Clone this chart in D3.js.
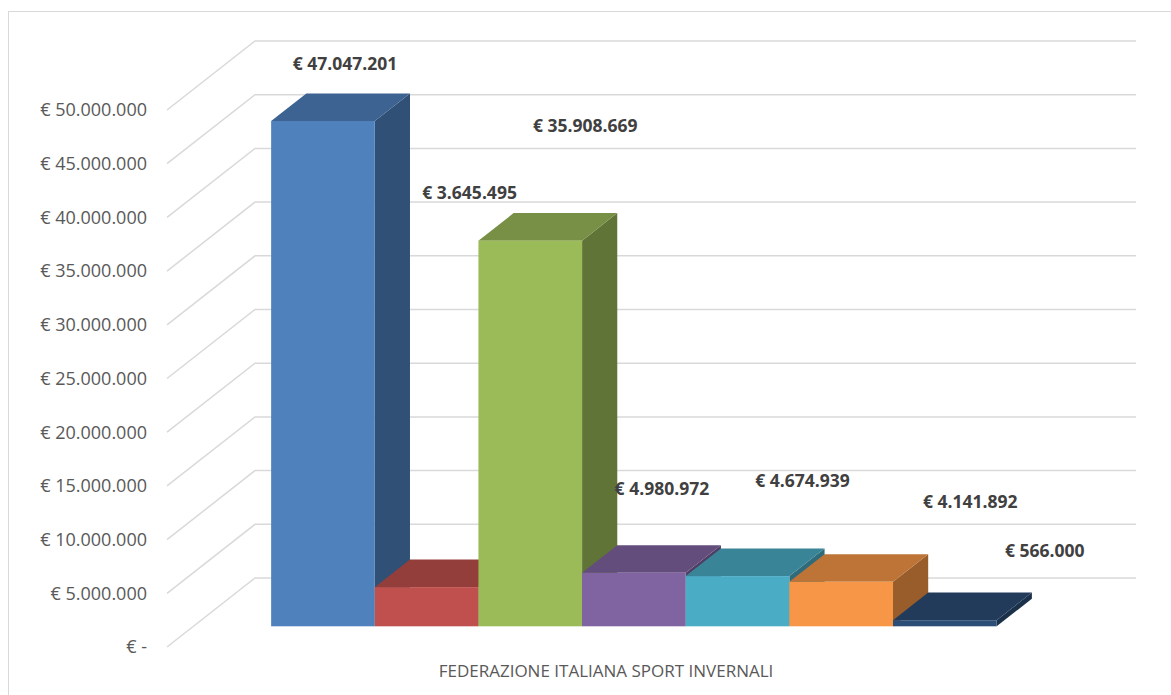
<!DOCTYPE html>
<html>
<head>
<meta charset="utf-8">
<script src="https://cdn.jsdelivr.net/npm/d3@7/dist/d3.min.js"></script>
<style>
  html, body { margin: 0; padding: 0; background: #ffffff; }
  svg { display: block; }
</style>
</head>
<body>
<svg id="chart" width="1171" height="695"></svg>
<script>
// ---- data ----
const categories = ["FEDERAZIONE ITALIANA SPORT INVERNALI"];
const seriesNames = ["S1", "S2", "S3", "S4", "S5", "S6", "S7"];
const seriesValues = [47047201, 3645495, 35908669, 4980972, 4674939, 4141892, 566000];
const tickValues = [0, 5000000, 10000000, 15000000, 20000000, 25000000, 30000000, 35000000, 40000000, 45000000, 50000000];
const tickLabels = ["€ -", "€ 5.000.000", "€ 10.000.000", "€ 15.000.000", "€ 20.000.000", "€ 25.000.000", "€ 30.000.000", "€ 35.000.000", "€ 40.000.000", "€ 45.000.000", "€ 50.000.000"];
const dataLabels = ["€ 47.047.201", "€ 3.645.495", "€ 35.908.669", "€ 4.980.972", "€ 4.674.939", "€ 4.141.892", "€ 566.000"];

// ---- style / layout ----
const seriesColors = ["#4F81BD", "#C0504D", "#9BBB59", "#8064A2", "#4BACC6", "#F79646", "#2C4D75"];
// label placement relative to bar top-front centre (pixels)
const labelNudge = [[22, -51], [43, -388], [55, -109], [28, -78], [65, -89], [129, -74], [100, -63]];

const svg = d3.select("#chart");

// chart frame
svg.append("rect").attr("x", 8.5).attr("y", 11.5).attr("width", 1180).attr("height", 700)
  .attr("fill", "#ffffff").attr("stroke", "#D9D9D9").attr("stroke-width", 1);

// oblique 3D geometry
const X0 = 167, X1 = 1048;     // front-plane horizontal extent
const DEPTH_DX = 88, DEPTH_DY = -69; // full depth offset
const BAR_D0 = 0.30, BAR_D1 = 0.70;  // bar depth span

const y = d3.scaleLinear().domain([0, 50000000]).range([647, 110]);
const xCat = d3.scaleBand().domain(categories).range([X0, X1]).padding(0);
const xSer = d3.scaleBand().domain(seriesNames)
  .range([xCat(categories[0]), xCat(categories[0]) + xCat.bandwidth()])
  .paddingInner(0).paddingOuter(0.75);

function P(xw, v, d) {
  return [xw + d * DEPTH_DX, y(v) + d * DEPTH_DY];
}

// gridlines: side diagonal + back wall
const grid = svg.append("g").attr("stroke", "#D9D9D9").attr("stroke-width", 1.5).attr("fill", "none");
tickValues.forEach(v => {
  const a = P(X0, v, 0), b = P(X0, v, 1), c = P(X1, v, 1);
  grid.append("path").attr("d", `M${a[0]},${a[1]}L${b[0]},${b[1]}L${c[0]},${c[1]}`);
});

// tick labels
svg.append("g").selectAll("text").data(tickValues).join("text")
  .attr("x", 147).attr("y", v => y(v)).attr("dy", "0.35em")
  .attr("text-anchor", "end")
  .attr("font-family", "'Open Sans', sans-serif").attr("font-size", 18)
  .attr("fill", "#595959")
  .text((v, i) => tickLabels[i]);

// bars
function shade(c, k) {
  const r = d3.rgb(c);
  return d3.rgb(r.r * k, r.g * k, r.b * k).formatHex();
}
const bars = svg.append("g");
seriesNames.forEach((s, i) => {
  const v = seriesValues[i];
  const xl = xSer(s), xr = xSer(s) + xSer.bandwidth();
  const g = bars.append("g");
  const pts = (arr) => arr.map(p => p.join(",")).join(" ");
  // right side
  g.append("polygon").attr("points", pts([P(xr, 0, BAR_D0), P(xr, 0, BAR_D1), P(xr, v, BAR_D1), P(xr, v, BAR_D0)]))
    .attr("fill", shade(seriesColors[i], 0.62));
  // top
  g.append("polygon").attr("points", pts([P(xl, v, BAR_D0), P(xr, v, BAR_D0), P(xr, v, BAR_D1), P(xl, v, BAR_D1)]))
    .attr("fill", shade(seriesColors[i], 0.77));
  // front
  const f0 = P(xl, v, BAR_D0), f1 = P(xr, 0, BAR_D0);
  g.append("rect").attr("x", f0[0]).attr("y", f0[1]).attr("width", f1[0] - f0[0]).attr("height", f1[1] - f0[1])
    .attr("fill", seriesColors[i]);
});

// data labels
svg.append("g").selectAll("text").data(seriesNames).join("text")
  .attr("x", (s, i) => P(xSer(s) + xSer.bandwidth() / 2, seriesValues[i], BAR_D0)[0] + labelNudge[i][0])
  .attr("y", (s, i) => P(xSer(s) + xSer.bandwidth() / 2, seriesValues[i], BAR_D0)[1] + labelNudge[i][1])
  .attr("text-anchor", "middle")
  .attr("font-family", "'Open Sans', sans-serif").attr("font-size", 17.5).attr("font-weight", "bold")
  .attr("fill", "#404040")
  .text((s, i) => dataLabels[i]);

// category axis title
svg.append("text").attr("x", 606).attr("y", 677)
  .attr("text-anchor", "middle")
  .attr("font-family", "'Open Sans', sans-serif").attr("font-size", 17)
  .attr("fill", "#595959")
  .text(categories[0]);
</script>
</body>
</html>
